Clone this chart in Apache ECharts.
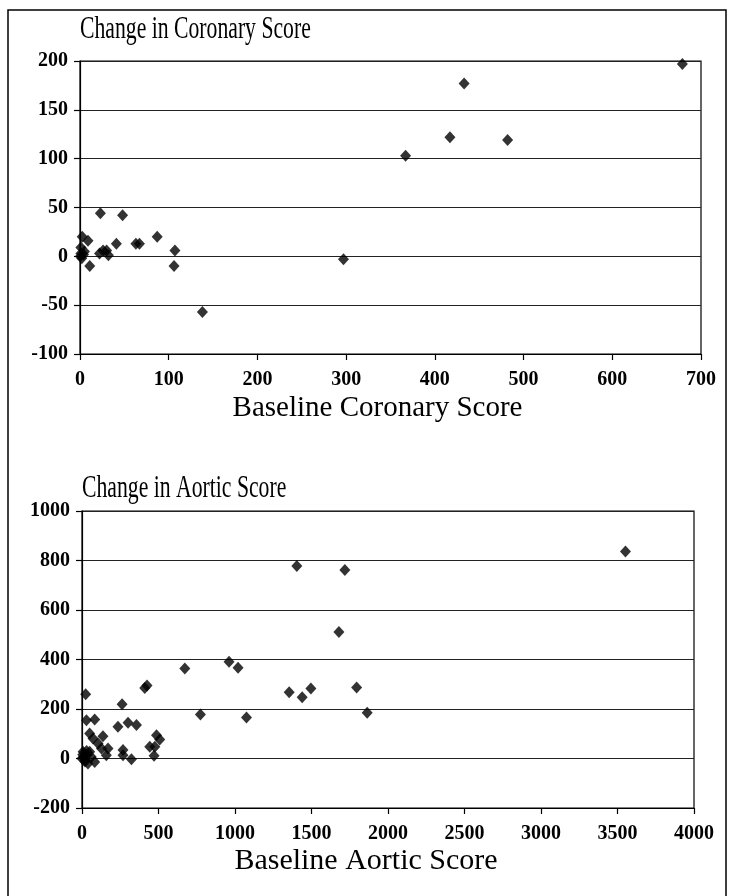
<!DOCTYPE html>
<html>
<head>
<meta charset="utf-8">
<script src="https://cdn.jsdelivr.net/npm/echarts@6/dist/echarts.min.js"></script>
<style>
  html, body { margin: 0; padding: 0; background: #fff; }
  #chart { width: 732px; height: 896px; }
</style>
</head>
<body>
<div id="chart"></div>
<script>
// coronary: [baseline, change]
var coronaryPoints = [
  [1, 9], [1, 3], [4, 2], [0.5, 0], [2, -2], [5, 5], [2.5, 20], [9, 16], [11, -10],
  [22, 3], [26, 6], [30, 6], [32, 1], [23, 44], [48, 42], [41, 13], [63, 13], [67, 13],
  [87, 20], [107, 6], [106, -10], [138, -57], [297, -3], [367, 103], [417, 122],
  [433, 177], [482, 119], [679, 197]
]
// aortic: [baseline, change]
var aorticPoints = [
  [24, 260], [29, 155], [83, 158], [262, 219], [410, 285], [425, 295], [672, 364],
  [961, 391], [1020, 367], [774, 178], [1075, 166], [1354, 268], [1439, 247], [1496, 283],
  [1404, 778], [1718, 762], [1679, 511], [1795, 287], [1864, 185], [3552, 836],
  [235, 128], [301, 144], [356, 135], [50, 101], [72, 81], [137, 90], [105, 61], [127, 40],
  [170, 40], [159, 13], [268, 34], [268, 13], [323, -3], [487, 94], [508, 77], [443, 47],
  [476, 47], [471, 11],
  [7, 27], [29, 13], [18, -7], [39, -20], [83, -14], [61, 6], [50, 27], [10, 5], [0, 0],
  [20, -12], [30, 30], [5, 15]
]
var titles = ['Change in Coronary Score', 'Change in Aortic Score']
var xNames = ['Baseline Coronary Score', 'Baseline Aortic Score']

var serif = '"Liberation Serif", "DejaVu Serif", serif'

function valueAxis (gridIndex, min, max, interval, isX, name) {
  var axis = {
    type: 'value',
    gridIndex: gridIndex,
    min: min,
    max: max,
    interval: interval,
    axisLine: { show: true, onZero: false, lineStyle: { color: '#000', width: 1.2 } },
    axisTick: { show: true, length: 6, lineStyle: { color: '#000', width: 1.2 } },
    axisLabel: {
      color: '#000',
      fontFamily: serif,
      fontWeight: 'bold',
      fontSize: 20,
      margin: isX ? 16 : 12,
      formatter: function (v) { return String(v) }
    },
    splitLine: { show: !isX, lineStyle: { color: '#222', width: 1.2 } }
  }
  if (name) {
    axis.name = name
    axis.nameLocation = 'middle'
    axis.nameGap = gridIndex === 0 ? 40 : 38
    // shift names a little left of the plot centre, like the original
    axis.nameTextStyle = {
      color: '#000',
      fontFamily: serif,
      fontSize: gridIndex === 0 ? 29 : 30,
      padding: gridIndex === 0 ? [0, 26, 0, 0] : [0, 44, 0, 0]
    }
  }
  return axis
}

var chart = echarts.init(document.getElementById('chart'))
chart.setOption({
  backgroundColor: '#fff',
  animation: false,
  grid: [
    { left: 80, top: 61, width: 621, height: 293, show: true, borderColor: '#000', borderWidth: 1.2, backgroundColor: 'transparent' },
    { left: 82, top: 511, width: 612, height: 297, show: true, borderColor: '#000', borderWidth: 1.2, backgroundColor: 'transparent' }
  ],
  xAxis: [
    valueAxis(0, 0, 700, 100, true, xNames[0]),
    valueAxis(1, 0, 4000, 500, true, xNames[1])
  ],
  yAxis: [
    valueAxis(0, -100, 200, 50, false),
    valueAxis(1, -200, 1000, 200, false)
  ],
  series: [
    {
      type: 'scatter',
      xAxisIndex: 0,
      yAxisIndex: 0,
      symbol: 'diamond',
      symbolSize: [11, 12],
      itemStyle: { color: '#000' },
      data: coronaryPoints
    },
    {
      type: 'scatter',
      xAxisIndex: 1,
      yAxisIndex: 1,
      symbol: 'diamond',
      symbolSize: [11, 12],
      itemStyle: { color: '#000' },
      data: aorticPoints
    }
  ],
  graphic: [
    {
      type: 'polyline',
      shape: { points: [[8, 900], [8, 10], [726, 10], [726, 900]] },
      style: { stroke: '#000', lineWidth: 1.5, fill: null }
    },
    {
      type: 'text',
      x: 80,
      y: 30,
      scaleX: 0.7,
      style: { text: titles[0], font: '31px ' + serif, fill: '#000', verticalAlign: 'middle' }
    },
    {
      type: 'text',
      x: 82,
      y: 489,
      scaleX: 0.7,
      style: { text: titles[1], font: '31px ' + serif, fill: '#000', verticalAlign: 'middle' }
    }
  ]
})
</script>
</body>
</html>
